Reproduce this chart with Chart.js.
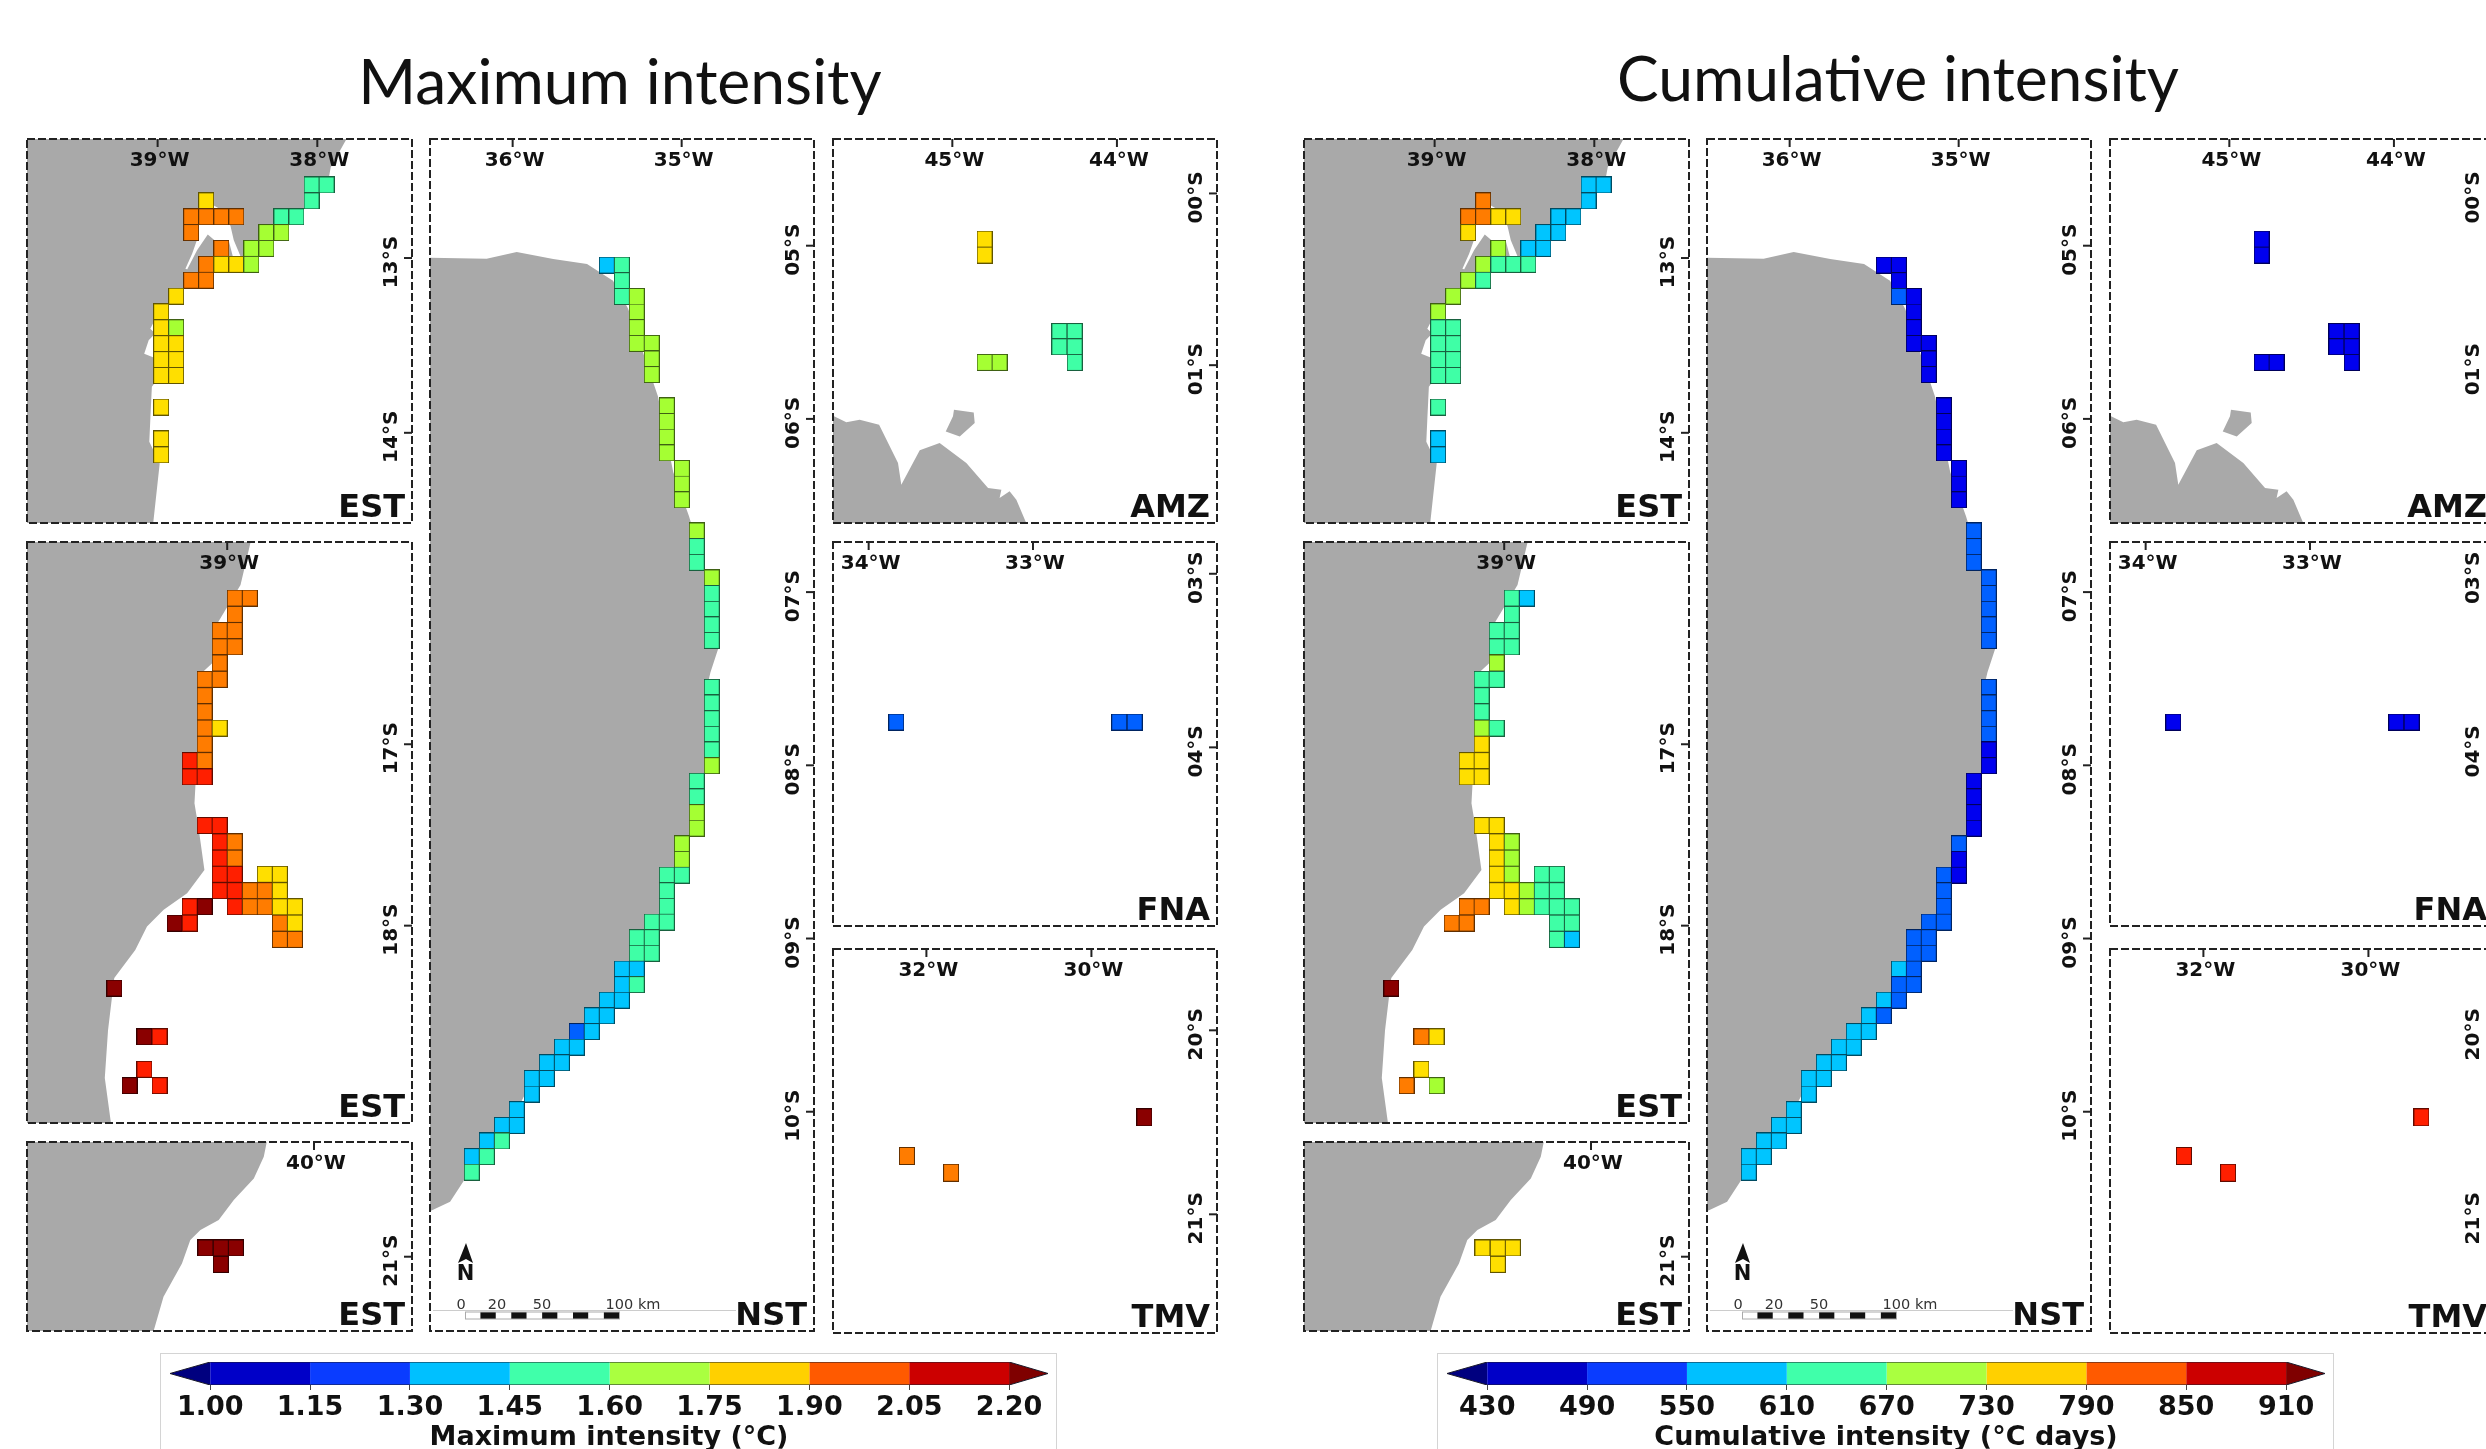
<!DOCTYPE html>
<html>
<head>
<meta charset="utf-8">
<title>Maximum and cumulative intensity</title>
<script src="https://cdn.jsdelivr.net/npm/chart.js@4"></script>
<style>
html, body { margin: 0; background: #fff; }
body { position: relative; width: 2486px; height: 1449px; overflow: hidden; }
canvas { position: absolute; }
.title { position: absolute; font-family: Lato, sans-serif; color: #111; white-space: nowrap; transform: translate(-50%, -50%); font-size: 62.4px; }
</style>
</head>
<body>
<div class="title" style="left:620px;top:79px">Maximum intensity</div>
<div class="title" style="left:1898px;top:76px">Cumulative intensity</div>
<script>
// colour bar classes
const maxEdges = [1.00, 1.15, 1.30, 1.45, 1.60, 1.75, 1.90, 2.05, 2.20];
const cumEdges = [430, 490, 550, 610, 670, 730, 790, 850, 910];
const maxTickLabels = ['1.00', '1.15', '1.30', '1.45', '1.60', '1.75', '1.90', '2.05', '2.20'];
const cumTickLabels = ['430', '490', '550', '610', '670', '730', '790', '850', '910'];
const barColors = ['#0000c8', '#0a3cff', '#00c0ff', '#40ffaa', '#aaff40', '#ffd000', '#ff5a00', '#cc0000'];
const cellColors = ['#0000ef', '#0060ff', '#00c5ff', '#3fffa6', '#a5ff33', '#ffdf00', '#ff7c00', '#ff1f00', '#8a0000'];

// EST, 12-14S
const estALons = [-38.978, -38.884, -38.790, -38.696, -38.601, -38.507, -38.413, -38.319, -38.225, -38.131, -38.036, -37.942];
const estALats = [-12.582, -12.673, -12.764, -12.854, -12.945, -13.036, -13.127, -13.218, -13.308, -13.399, -13.490, -13.581, -13.672, -13.762, -13.853, -13.944, -14.035, -14.126];
const estACols = [10,11, 3,10, 2,3,4,5,8,9, 2,7,8, 4,6,7, 3,4,5,6, 2,3, 1, 0, 0,1, 0,1, 0,1, 0,1, 0, 0, 0];
const estARows = [0,0, 1,1, 2,2,2,2,2,2, 3,3,3, 4,4,4, 5,5,5,5, 6,6, 7, 8, 9,9, 10,10, 11,11, 12,12, 14, 16, 17];
const estAMax = [1.52,1.52, 1.82,1.52, 1.98,1.98,1.98,1.98,1.52,1.52, 1.98,1.68,1.68, 1.98,1.68,1.68, 1.98,1.82,1.82,1.68, 1.98,1.98, 1.82, 1.82, 1.82,1.68, 1.82,1.82, 1.82,1.82, 1.82,1.82, 1.82, 1.82, 1.82];
const estACum = [580,580, 820,580, 820,820,760,760,580,580, 760,580,580, 700,580,580, 700,640,640,640, 700,640, 700, 700, 640,640, 640,640, 640,640, 640,640, 640, 580, 580];
const estALand = [[-37.811,-12.309],[-37.916,-12.480],[-37.927,-12.537],[-37.994,-12.629],[-38.088,-12.718],[-38.184,-12.813],[-38.276,-12.905],[-38.372,-12.994],[-38.648,-13.070],[-38.653,-13.166],[-38.837,-13.175],[-38.931,-13.263],[-39.021,-13.265],[-39.029,-13.375],[-39.046,-13.404],[-39.015,-13.432],[-39.056,-13.470],[-39.084,-13.547],[-39.021,-13.570],[-39.021,-13.718],[-39.036,-13.737],[-39.046,-13.928],[-39.052,-14.051],[-38.987,-14.175],[-39.029,-14.528],[-39.841,-14.528],[-39.841,-12.309]];
const estABay = [[-38.826,-13.061],[-38.784,-12.975],[-38.743,-12.870],[-38.743,-12.815],[-38.648,-12.699],[-38.623,-12.712],[-38.544,-12.815],[-38.523,-12.899],[-38.477,-12.998],[-38.732,-13.090]];
const estAIsland = [[-38.686,-12.865],[-38.638,-12.903],[-38.554,-12.903],[-38.527,-12.998],[-38.732,-13.109],[-38.816,-13.067],[-38.753,-12.956]];

// EST, 16-19S
const estBLons = [-39.703, -39.609, -39.516, -39.422, -39.328, -39.234, -39.141, -39.047, -38.953, -38.859, -38.766, -38.672, -38.578];
const estBLats = [-16.194, -16.284, -16.373, -16.463, -16.552, -16.642, -16.732, -16.821, -16.911, -17.000, -17.090, -17.180, -17.269, -17.359, -17.448, -17.538, -17.628, -17.717, -17.807, -17.896, -17.986, -18.076, -18.165, -18.255, -18.344, -18.434, -18.524, -18.613, -18.703, -18.792, -18.882];
const estBCols = [8,9, 8, 7,8, 7,8, 7, 6,7, 6, 6, 6,7, 6, 5,6, 5,6, 6,7, 7,8, 7,8, 7,8,10,11, 7,8,9,10,11, 5,6,8,9,10,11,12, 4,5,11,12, 11,12, 0, 2,3, 2, 1,3];
const estBRows = [0,0, 1, 2,2, 3,3, 4, 5,5, 6, 7, 8,8, 9, 10,10, 11,11, 14,14, 15,15, 16,16, 17,17,17,17, 18,18,18,18,18, 19,19,19,19,19,19,19, 20,20,20,20, 21,21, 24, 27,27, 29, 30,30];
const estBMax = [1.98,1.98, 1.98, 1.98,1.98, 1.98,1.98, 1.98, 1.98,1.98, 1.98, 1.98, 1.98,1.82, 1.98, 2.12,1.98, 2.12,2.12, 2.12,2.12, 2.12,1.98, 2.12,1.98, 2.12,2.12,1.82,1.82, 2.12,2.12,1.98,1.98,1.82, 2.12,2.30,2.12,1.98,1.98,1.82,1.82, 2.30,2.12,1.98,1.82, 1.98,1.98, 2.30, 2.30,2.12, 2.12, 2.30,2.12];
const estBCum = [640,580, 640, 640,640, 640,640, 700, 640,640, 640, 640, 700,640, 760, 760,760, 760,760, 760,760, 760,700, 760,700, 760,700,640,640, 760,760,700,640,640, 820,820,760,700,640,640,640, 820,820,640,640, 640,580, 930, 820,760, 760, 820,700];
const estBLand = [[-38.854,-15.800],[-38.854,-15.885],[-38.917,-16.122],[-39.000,-16.243],[-39.086,-16.370],[-39.092,-16.552],[-39.186,-16.629],[-39.186,-17.031],[-39.204,-17.325],[-39.177,-17.472],[-39.142,-17.693],[-39.250,-17.821],[-39.396,-17.913],[-39.500,-18.005],[-39.573,-18.134],[-39.704,-18.288],[-39.743,-18.578],[-39.763,-18.840],[-39.723,-19.099],[-40.300,-19.100],[-40.300,-15.800]];

// EST, 21S
const estCLons = [-40.677, -40.581, -40.487];
const estCLats = [-20.952, -21.042];
const estCCols = [0, 1, 2, 1];
const estCRows = [0, 0, 0, 1];
const estCMax = [2.30, 2.30, 2.30, 2.30];
const estCCum = [760, 760, 760, 760];
const estCLand = [[-40.292,-20.359],[-40.313,-20.451],[-40.375,-20.570],[-40.500,-20.689],[-40.594,-20.799],[-40.708,-20.853],[-40.771,-20.908],[-40.823,-21.037],[-40.938,-21.220],[-41.004,-21.421],[-41.833,-21.421],[-41.833,-20.359]];

// NST
const nstLons = [-36.242, -36.153, -36.064, -35.976, -35.887, -35.798, -35.709, -35.621, -35.532, -35.443, -35.354, -35.266, -35.177, -35.088, -34.999, -34.911, -34.822];
const nstLats = [-5.112, -5.202, -5.293, -5.383, -5.473, -5.564, -5.654, -5.744, -5.834, -5.925, -6.015, -6.105, -6.196, -6.286, -6.376, -6.467, -6.557, -6.647, -6.737, -6.828, -6.918, -7.008, -7.099, -7.189, -7.279, -7.370, -7.460, -7.550, -7.640, -7.731, -7.821, -7.911, -8.002, -8.092, -8.182, -8.273, -8.363, -8.453, -8.543, -8.634, -8.724, -8.814, -8.905, -8.995, -9.085, -9.176, -9.266, -9.356, -9.446, -9.537, -9.627, -9.717, -9.808, -9.898, -9.988, -10.079, -10.169, -10.259, -10.349];
const nstCols = [9,10, 10, 10,11, 11, 11, 11,12, 12, 12, 13, 13, 13, 13, 14, 14, 14, 15, 15, 15, 16, 16, 16, 16, 16, 16, 16, 16, 16, 16, 16, 15, 15, 15, 15, 14, 14, 13,14, 13, 13, 12,13, 11,12, 11,12, 10,11, 10,11, 9,10, 8,9, 7,8, 6,7, 5,6, 4,5, 4, 3, 2,3, 1,2, 0,1, 0];
const nstRows = [0,0, 1, 2,2, 3, 4, 5,5, 6, 7, 9, 10, 11, 12, 13, 14, 15, 17, 18, 19, 20, 21, 22, 23, 24, 27, 28, 29, 30, 31, 32, 33, 34, 35, 36, 37, 38, 39,39, 40, 41, 42,42, 43,43, 44,44, 45,45, 46,46, 47,47, 48,48, 49,49, 50,50, 51,51, 52,52, 53, 54, 55,55, 56,56, 57,57, 58];
const nstMax = [1.38,1.52, 1.52, 1.52,1.68, 1.68, 1.68, 1.68,1.68, 1.68, 1.68, 1.68, 1.68, 1.68, 1.68, 1.68, 1.68, 1.68, 1.68, 1.52, 1.52, 1.68, 1.52, 1.52, 1.52, 1.52, 1.52, 1.52, 1.52, 1.52, 1.52, 1.68, 1.52, 1.52, 1.68, 1.68, 1.68, 1.68, 1.52,1.52, 1.52, 1.52, 1.52,1.52, 1.52,1.52, 1.52,1.52, 1.38,1.38, 1.38,1.52, 1.38,1.38, 1.38,1.38, 1.22,1.38, 1.38,1.38, 1.38,1.38, 1.38,1.38, 1.38, 1.38, 1.38,1.38, 1.38,1.52, 1.38,1.52, 1.52];
const nstCum = [460,460, 460, 520,460, 460, 460, 460,460, 460, 460, 460, 460, 460, 460, 460, 460, 460, 520, 520, 520, 520, 520, 520, 520, 520, 520, 520, 520, 520, 460, 460, 460, 460, 460, 460, 520, 460, 520,460, 520, 520, 520,520, 520,520, 520,520, 580,520, 520,520, 580,520, 580,520, 580,580, 580,580, 580,580, 580,580, 580, 580, 580,580, 580,580, 580,580, 580];
const nstLand = [[-36.489,-5.070],[-36.154,-5.075],[-35.976,-5.036],[-35.760,-5.077],[-35.560,-5.106],[-35.406,-5.203],[-35.316,-5.365],[-35.140,-5.870],[-35.050,-6.306],[-34.957,-6.560],[-34.870,-6.840],[-34.800,-7.250],[-34.780,-7.315],[-34.830,-7.464],[-34.850,-7.550],[-34.850,-8.040],[-34.930,-8.090],[-34.930,-8.400],[-35.020,-8.450],[-35.020,-8.650],[-35.100,-8.700],[-35.100,-8.940],[-35.190,-9.000],[-35.280,-9.120],[-35.360,-9.270],[-35.450,-9.380],[-35.540,-9.470],[-35.630,-9.560],[-35.720,-9.650],[-35.800,-9.740],[-35.890,-9.830],[-35.980,-10.000],[-36.070,-10.100],[-36.160,-10.190],[-36.250,-10.280],[-36.290,-10.400],[-36.370,-10.520],[-36.480,-10.570],[-36.520,-10.570],[-36.520,-5.070]];

// AMZ
const amzLons = [-44.804, -44.713, -44.350, -44.257];
const amzLats = [-0.266, -0.359, -0.804, -0.893, -0.984];
const amzCols = [0, 0, 0, 1, 2, 3, 2, 3, 3];
const amzRows = [0, 1, 4, 4, 2, 2, 3, 3, 4];
const amzMax = [1.82, 1.82, 1.68, 1.68, 1.52, 1.52, 1.52, 1.52, 1.52];
const amzCum = [460, 460, 460, 460, 460, 460, 460, 460, 460];
const amzLand = [[-45.735,-1.289],[-45.644,-1.333],[-45.563,-1.318],[-45.445,-1.347],[-45.330,-1.570],[-45.310,-1.696],[-45.198,-1.496],[-45.077,-1.453],[-44.915,-1.570],[-44.783,-1.715],[-44.702,-1.725],[-44.713,-1.773],[-44.652,-1.734],[-44.611,-1.783],[-44.547,-1.928],[-45.735,-1.928]];
const amzIsle = [[-44.990,-1.260],[-44.870,-1.275],[-44.864,-1.337],[-44.955,-1.415],[-45.040,-1.386],[-44.996,-1.298]];

// FNA
const fnaLons = [-33.832, -32.475, -32.381];
const fnaLats = [-3.854];
const fnaCols = [0, 1, 2];
const fnaRows = [0, 0, 0];
const fnaMax = [1.22, 1.22, 1.22];
const fnaCum = [460, 460, 460];

// TMV
const tmvLons = [-32.236, -31.701, -29.358];
const tmvLats = [-20.473, -20.683, -20.774];
const tmvCols = [0, 1, 2];
const tmvRows = [1, 2, 0];
const tmvMax = [1.98, 1.98, 2.30];
const tmvCum = [880, 880, 880];

const panels = [
    { name: 'EST', box: [27, 139, 385, 384], xr: [-39.818, -37.407], yr: [-14.516, -12.319], lonTicks: [-39, -38], latTicks: [-13, -14], lons: estALons, lats: estALats, cols: estACols, rows: estARows, maxv: estAMax, cumv: estACum, cell: [15, 16],
      rings: [[estALand, '#a9a9a9'], [estABay, '#fff'], [estAIsland, '#a9a9a9']] },
    { name: 'EST', box: [27, 542, 385, 581], xr: [-40.248, -37.848], yr: [-19.088, -15.885], lonTicks: [-39], latTicks: [-17, -18], lons: estBLons, lats: estBLats, cols: estBCols, rows: estBRows, maxv: estBMax, cumv: estBCum, cell: [15, 16],
      rings: [[estBLand, '#a9a9a9']] },
    { name: 'EST', box: [27, 1142, 385, 189], xr: [-41.789, -39.389], yr: [-21.408, -20.370], lonTicks: [-40], latTicks: [-21], lons: estCLons, lats: estCLats, cols: estCCols, rows: estCRows, maxv: estCMax, cumv: estCCum, cell: [15, 16],
      rings: [[estCLand, '#a9a9a9']] },
    { name: 'NST', box: [430, 139, 384, 1192], xr: [-36.489, -34.217], yr: [-11.266, -4.384], lonTicks: [-36, -35], latTicks: [-5, -6, -7, -8, -9, -10], lons: nstLons, lats: nstLats, cols: nstCols, rows: nstRows, maxv: nstMax, cumv: nstCum, cell: [15, 16],
      rings: [[nstLand, '#a9a9a9']], furniture: true },
    { name: 'AMZ', box: [833, 139, 384, 384], xr: [-45.725, -43.392], yr: [-1.919, 0.317], lonTicks: [-45, -44], latTicks: [0, -1], lons: amzLons, lats: amzLats, cols: amzCols, rows: amzRows, maxv: amzMax, cumv: amzCum, cell: [15, 16],
      rings: [[amzLand, '#a9a9a9'], [amzIsle, '#a9a9a9']] },
    { name: 'FNA', box: [833, 542, 384, 384], xr: [-34.217, -31.880], yr: [-5.029, -2.817], lonTicks: [-34, -33], latTicks: [-3, -4], lons: fnaLons, lats: fnaLats, cols: fnaCols, rows: fnaRows, maxv: fnaMax, cumv: fnaCum, cell: [15, 16], rings: [] },
    { name: 'TMV', box: [833, 949, 384, 384], xr: [-33.132, -28.478], yr: [-21.645, -19.558], lonTicks: [-32, -30], latTicks: [-20, -21], lons: tmvLons, lats: tmvLats, cols: tmvCols, rows: tmvRows, maxv: tmvMax, cumv: tmvCum, cell: [15, 17], rings: [] }
];

Chart.defaults.font.family = '"DejaVu Sans"';
Chart.defaults.animation = false;
Chart.defaults.responsive = false;
Chart.defaults.events = [];

const spriteCache = {};
function cellSprite(color, w, h) {
    const key = color + w + 'x' + h;
    if (!spriteCache[key]) {
        const c = document.createElement('canvas');
        c.width = w + 1;
        c.height = h + 1;
        const g = c.getContext('2d');
        g.fillStyle = color;
        g.fillRect(0, 0, c.width, c.height);
        g.strokeStyle = 'rgba(0, 0, 0, 0.62)';
        g.lineWidth = 1;
        g.strokeRect(0.5, 0.5, w, h);
        spriteCache[key] = c;
    }
    return spriteCache[key];
}

function binColor(v, edges) {
    let i = 0;
    while (i < edges.length - 1 && v >= edges[i + 1]) i++;
    return cellColors[i];
}

function addCanvas(x, y, w, h) {
    const c = document.createElement('canvas');
    c.width = w;
    c.height = h;
    c.style.left = x + 'px';
    c.style.top = y + 'px';
    document.body.appendChild(c);
    return c;
}

function northAndScale(ctx, a) {
    // north arrow
    ctx.fillStyle = '#111';
    ctx.beginPath();
    ctx.moveTo(a.left + 36, a.bottom - 88);
    ctx.lineTo(a.left + 43, a.bottom - 68);
    ctx.lineTo(a.left + 36, a.bottom - 72);
    ctx.lineTo(a.left + 28, a.bottom - 68);
    ctx.closePath();
    ctx.fill();
    ctx.font = 'bold 21px "DejaVu Sans"';
    ctx.textAlign = 'center';
    ctx.textBaseline = 'middle';
    ctx.fillText('N', a.left + 35.5, a.bottom - 56);
    // scale bar
    ctx.strokeStyle = '#ccc';
    ctx.lineWidth = 1;
    ctx.beginPath();
    ctx.moveTo(a.left + 3, a.bottom - 20.5);
    ctx.lineTo(a.left + 306, a.bottom - 20.5);
    ctx.stroke();
    for (let i = 0; i < 10; i++) {
        ctx.fillStyle = i % 2 ? '#111' : '#fff';
        ctx.fillRect(a.left + 35 + i * 15.43, a.bottom - 19, 15.43, 7);
    }
    ctx.strokeStyle = '#aaa';
    ctx.strokeRect(a.left + 35.5, a.bottom - 19, 154, 7);
    ctx.fillStyle = '#333';
    ctx.font = '14.5px "DejaVu Sans"';
    ctx.fillText('0', a.left + 31, a.bottom - 26);
    ctx.fillText('20', a.left + 67, a.bottom - 26);
    ctx.fillText('50', a.left + 112, a.bottom - 26);
    ctx.fillText('100 km', a.left + 203, a.bottom - 26);
}

function panelDecor(p) {
    return {
        id: 'panelDecor',
        afterDraw(chart) {
            const { ctx, chartArea: a, scales } = chart;
            ctx.save();
            ctx.fillStyle = '#111';
            ctx.strokeStyle = '#222';
            ctx.lineWidth = 2;
            p.lonTicks.forEach(v => {
                const x = scales.x.getPixelForValue(v);
                ctx.beginPath();
                ctx.moveTo(x, a.top);
                ctx.lineTo(x, a.top + 8);
                ctx.stroke();
                ctx.font = 'bold 20px "DejaVu Sans"';
                ctx.textAlign = 'center';
                ctx.textBaseline = 'middle';
                ctx.fillText(Math.abs(v) + '°W', x + 2, a.top + 22);
            });
            p.latTicks.forEach(v => {
                const y = scales.y.getPixelForValue(v);
                ctx.beginPath();
                ctx.moveTo(a.right, y);
                ctx.lineTo(a.right - 8, y);
                ctx.stroke();
                ctx.save();
                ctx.translate(a.right - 20, y + 4);
                ctx.rotate(-Math.PI / 2);
                ctx.font = 'bold 20px "DejaVu Sans"';
                ctx.textAlign = 'center';
                ctx.textBaseline = 'middle';
                ctx.fillText(String(Math.abs(v)).padStart(2, '0') + '°S', 0, 0);
                ctx.restore();
            });
            if (p.furniture) northAndScale(ctx, a);
            ctx.fillStyle = '#111';
            ctx.font = 'bold 32px "DejaVu Sans"';
            ctx.textAlign = 'right';
            ctx.textBaseline = 'alphabetic';
            ctx.fillText(p.name, a.right - 7, a.bottom - 6);
            // dashed frame
            ctx.strokeStyle = '#222';
            ctx.lineWidth = 2;
            ctx.setLineDash([8, 3]);
            ctx.strokeRect(a.left, a.top, a.right - a.left, a.bottom - a.top);
            ctx.restore();
        }
    };
}

function drawPanel(p, offsetX, values, edges) {
    const pad = 2;
    const canvas = addCanvas(p.box[0] + offsetX - pad, p.box[1] - pad, p.box[2] + pad * 2, p.box[3] + pad * 2);
    const datasets = [{
        data: p.cols.map((c, i) => ({ x: p.lons[c], y: p.lats[p.rows[i]] })),
        pointStyle: values.map(v => cellSprite(binColor(v, edges), p.cell[0], p.cell[1])),
        pointRadius: 8,
        showLine: false,
        order: 0
    }];
    p.rings.forEach((ring, i) => {
        datasets.push({
            data: ring[0].map(q => ({ x: q[0], y: q[1] })),
            showLine: true,
            fill: 'shape',
            backgroundColor: ring[1],
            borderWidth: 0,
            pointRadius: 0,
            tension: 0,
            order: p.rings.length - i
        });
    });
    new Chart(canvas.getContext('2d'), {
        type: 'scatter',
        data: { datasets },
        options: {
            layout: { padding: pad, autoPadding: false },
            plugins: { legend: { display: false }, tooltip: { enabled: false } },
            scales: {
                x: { type: 'linear', display: false, min: p.xr[0], max: p.xr[1] },
                y: { type: 'linear', display: false, min: p.yr[0], max: p.yr[1] }
            }
        },
        plugins: [panelDecor(p)]
    });
}

function drawColorBar(offsetX, edges, tickLabels, label) {
    const canvas = addCanvas(160 + offsetX, 1353, 897, 96);
    const step = edges[1] - edges[0];
    const lo = edges[0];
    const hi = edges[edges.length - 1];
    const tipLo = lo - step * 0.403;
    const tipHi = hi + step * 0.39;
    const poly = (pts, color) => ({
        data: pts.map(q => ({ x: q[0], y: q[1] })),
        showLine: true, fill: 'shape', backgroundColor: color,
        borderWidth: 0, pointRadius: 0, tension: 0
    });
    const datasets = [{
        data: [[lo, 0], [hi, 0], [tipHi, 0.5], [hi, 1], [lo, 1], [tipLo, 0.5], [lo, 0]].map(q => ({ x: q[0], y: q[1] })),
        showLine: true, borderColor: '#1a1a2a', borderWidth: 1, pointRadius: 0, tension: 0, fill: false
    }];
    barColors.forEach((color, i) => {
        datasets.push(poly([[edges[i], 0], [edges[i + 1], 0], [edges[i + 1], 1], [edges[i], 1]], color));
    });
    datasets.push(poly([[lo, 0], [tipLo, 0.5], [lo, 1]], '#00007f'));
    datasets.push(poly([[hi, 0], [tipHi, 0.5], [hi, 1]], '#7f0000'));
    new Chart(canvas.getContext('2d'), {
        type: 'scatter',
        data: { datasets },
        options: {
            layout: { padding: { top: 9, left: 10, right: 9, bottom: 0 }, autoPadding: false },
            plugins: { legend: { display: false }, tooltip: { enabled: false } },
            scales: {
                x: {
                    type: 'linear', min: tipLo, max: tipHi,
                    afterBuildTicks: axis => { axis.ticks = edges.map(value => ({ value })); },
                    afterFit: axis => { axis.height = 64; },
                    grid: { drawOnChartArea: false, drawTicks: true, tickLength: 5, color: '#444' },
                    border: { display: false },
                    ticks: {
                        autoSkip: false, maxRotation: 0, padding: 2, color: '#111',
                        font: { size: 27, weight: 'bold' },
                        callback: v => tickLabels[edges.indexOf(v)]
                    },
                    title: { display: true, text: label, color: '#111', font: { size: 27, weight: 'bold' }, padding: { top: 0, bottom: -5 } }
                },
                y: { type: 'linear', display: false, min: 0, max: 1 }
            }
        },
        plugins: [{
            id: 'barBox',
            beforeDraw(chart) {
                const c = chart.ctx;
                c.save();
                c.strokeStyle = '#d4d4d4';
                c.lineWidth = 1;
                c.strokeRect(0.5, 0.5, chart.width - 1, chart.height + 10);
                c.restore();
            }
        }]
    });
}

panels.forEach(p => {
    drawPanel(p, 0, p.maxv, maxEdges);
    drawPanel(p, 1277, p.cumv, cumEdges);
});
drawColorBar(0, maxEdges, maxTickLabels, 'Maximum intensity (°C)');
drawColorBar(1277, cumEdges, cumTickLabels, 'Cumulative intensity (°C days)');
</script>
</body>
</html>
